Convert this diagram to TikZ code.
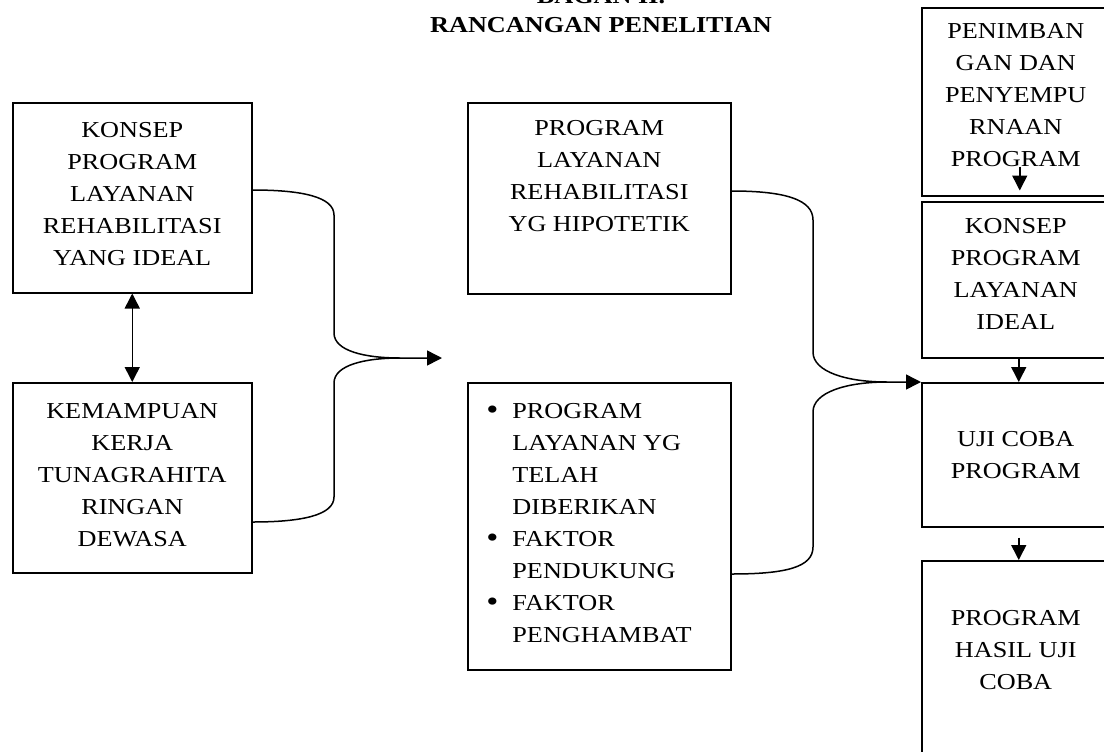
\documentclass[tikz,border=0pt]{standalone}
\usepackage{fontspec}
\setmainfont{Liberation Serif}[FakeStretch=1.15]
\usetikzlibrary{arrows.meta,positioning,calc}

\newcommand{\bulletmark}{\llap{\raisebox{-0.3pt}{\fontsize{15}{16}\selectfont\textbullet}\hspace{7pt}}}

\begin{document}
\begin{tikzpicture}[x=0.5pt,y=-0.5pt,
    font=\fontsize{11.4}{16}\selectfont,
    box/.style={draw, line width=0.75pt, anchor=north west, inner sep=0pt},
    txt/.style={align=center, inner sep=0pt, anchor=north},
    ttl/.style={align=center, inner sep=0pt, font=\fontsize{11.4}{16}\selectfont\bfseries},
    arr/.style={line width=0.75pt, -{Triangle[length=7.5pt,width=7.5pt]}},
    con/.style={line width=0.75pt}]
      \useasboundingbox (0,0) rectangle (1104,751);
      \clip (0,0) rectangle (1104,751);
      \fill[white] (0,0) rectangle (1104,751);

      % title
      \node[ttl, anchor=south] (title) at (601,33) {BAGAN II.\\[-1.5pt]RANCANGAN PENELITIAN};

      % left column
      \node[box, minimum width=119.5pt, minimum height=95pt] (konsep) at (12,102) {};
      \node[box, minimum width=119.5pt, minimum height=95pt] (kemampuan) at (12,382) {};
      \node[txt] (konsepT) at ($(konsep.north)+(0,20)$) {KONSEP\\PROGRAM\\LAYANAN\\REHABILITASI\\YANG IDEAL};
      \node[txt] (kemampuanT) at ($(kemampuan.north)+(0,21)$) {KEMAMPUAN\\KERJA\\TUNAGRAHITA\\RINGAN\\DEWASA};

      % middle column
      \node[box, minimum width=131.5pt, minimum height=95.5pt] (hipotetik) at (467,102) {};
      \node[box, minimum width=131.5pt, minimum height=143.5pt] (faktor) at (467,382) {};
      \node[txt] (hipotetikT) at ($(hipotetik.north)+(0,18)$) {PROGRAM\\LAYANAN\\REHABILITASI\\YG HIPOTETIK};
      \node[align=left, inner sep=0pt, anchor=north west] (faktorT) at ($(faktor.north west)+(45,21)$)
        {\bulletmark PROGRAM\\LAYANAN YG\\TELAH\\DIBERIKAN\\
         \bulletmark FAKTOR\\PENDUKUNG\\
         \bulletmark FAKTOR\\PENGHAMBAT};

      % right column
      \node[box, minimum width=94pt, minimum height=94pt] (penimbangan) at (921,7) {};
      \node[box, minimum width=94pt, minimum height=78pt] (ideal) at (921,201) {};
      \node[box, minimum width=94pt, minimum height=72pt] (ujicoba) at (921,382) {};
      \node[box, minimum width=94pt, minimum height=110pt] (hasil) at (921,560) {};
      \node[txt] (penimbanganT) at ($(penimbangan.north)+(0,16)$) {PENIMBAN\\GAN DAN\\PENYEMPU\\RNAAN\\PROGRAM};
      \node[txt] (idealT) at ($(ideal.north)+(0,17)$) {KONSEP\\PROGRAM\\LAYANAN\\IDEAL};
      \node[txt, anchor=center] (ujicobaT) at (ujicoba.center) {UJI COBA\\PROGRAM};
      \node[txt] (hasilT) at ($(hasil.north)+(0,50)$) {PROGRAM\\HASIL UJI\\COBA};

      % connectors
      \draw[line width=0.75pt, {Triangle[length=7.5pt,width=7.5pt]}-{Triangle[length=7.5pt,width=7.5pt]}]
        (konsep.south) -- (kemampuan.north);

      \coordinate (ljoin) at (400,358);
      \coordinate (ltip) at (442,358);
      \draw[arr] ($(konsep.north east)+(0,88)$) .. controls +(50,0) and +(0,-18) .. (334,215)
        -- (334,333) .. controls +(0,18) and +(-35,0) .. (ljoin) -- (ltip);
      \draw[con] ($(kemampuan.north east)+(0,140)$) .. controls +(50,0) and +(0,18) .. (334,497)
        -- (334,383) .. controls +(0,-18) and +(-35,0) .. (ljoin);

      \coordinate (rjoin) at (887,382);
      \draw[arr] ($(hipotetik.north east)+(0,89)$) .. controls +(55,0) and +(0,-20) .. (813,220)
        -- (813,352) .. controls +(0,20) and +(-40,0) .. (rjoin) -- (ujicoba.north west);
      \draw[con] ($(faktor.north east)+(0,192)$) .. controls +(55,0) and +(0,20) .. (813,547)
        -- (813,412) .. controls +(0,-20) and +(-40,0) .. (rjoin);

      \draw[arr] ($(penimbangan.south)+(4,-30)$) -- ($(penimbangan.south)+(4,-6)$);
      \draw[arr] ($(ideal.south)+(3,0)$) -- ($(ujicoba.north)+(3,0)$);
      \draw[arr] ($(ujicoba.south)+(3,10)$) -- ($(hasil.north)+(3,0)$);
    \end{tikzpicture}
\end{document}
